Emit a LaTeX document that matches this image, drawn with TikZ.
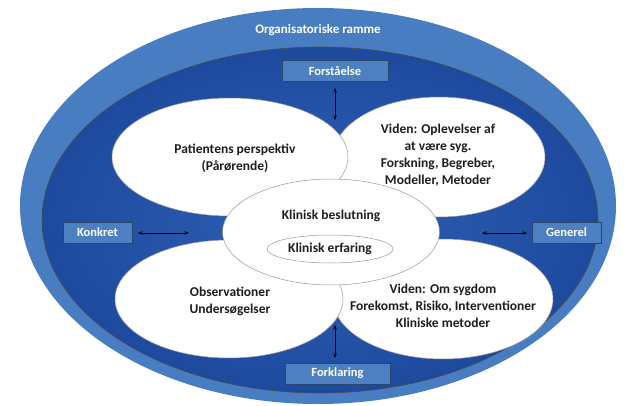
\documentclass[tikz,border=0pt]{standalone}
\usepackage{fontspec}
\setmainfont{Carlito}
\usetikzlibrary{shapes.geometric,arrows.meta}

\definecolor{rammeblaa}{RGB}{72,125,194}
\definecolor{moerkblaa}{RGB}{30,74,158}
\definecolor{lysblaa}{RGB}{46,97,182}
\definecolor{boksblaa}{RGB}{77,128,192}
\definecolor{tekstgraa}{RGB}{30,30,30}

\tikzset{
  felt/.style={ellipse, fill=white, draw=gray!80, line width=.5pt, inner sep=0pt},
  boks/.style={rectangle, fill=boksblaa, draw=boksblaa!55!black, line width=.6pt,
    text=white, font=\fontsize{12.5}{15}\bfseries, minimum height=21pt, inner sep=0pt},
  tekst/.style={align=center, text=tekstgraa, font=\fontsize{13.5}{17}\bfseries, inner sep=0pt},
  pil/.style={{Stealth[length=4.5pt,width=3.5pt]}-{Stealth[length=4.5pt,width=3.5pt]}, line width=.6pt},
}

\begin{document}
\begin{tikzpicture}[x=1pt,y=-1pt]
\useasboundingbox (0,0) rectangle (626,406);
% organisatorisk ramme
\fill[rammeblaa] (318,206) ellipse [x radius=298, y radius=198];
\shadedraw[inner color=lysblaa, outer color=moerkblaa, draw=black!70, line width=.6pt]
  (320,220) ellipse [x radius=278, y radius=173];
\node[font=\fontsize{13}{15}\bfseries, text=white] (ramme) at (318,30) {Organisatoriske ramme};

% de fire felter
\node[felt, minimum width=212, minimum height=120] (oplevelser) at (439,157) {};
\node[felt, minimum width=236, minimum height=118] (patient) at (230,157) {};
\node[felt, minimum width=220, minimum height=120] (sygdom) at (443,299) {};
\node[felt, minimum width=228, minimum height=118] (observation) at (229,299) {};
\node[felt, minimum width=217, minimum height=106] (beslutning) at (331,232) {};
\node[felt, minimum width=126, minimum height=28] (erfaring) at (330,249) {};
\node[tekst] (erfaringtxt) at (erfaring) {Klinisk erfaring};

% tekster
\node[tekst] (patienttxt) at (235,158) {Patientens perspektiv\\(Pårørende)};
\node[tekst] (oplevelsertxt) at (438,155) {Viden: Oplevelser af\\at være syg.\\Forskning, Begreber,\\Modeller, Metoder};
\node[tekst] (observationtxt) at (230,301) {Observationer\\Undersøgelser};
\node[tekst] (sygdomtxt) at (443,306) {Viden: Om sygdom\\Forekomst, Risiko, Interventioner\\Kliniske metoder};
\node[tekst] (beslutningtxt) at (331,216) {Klinisk beslutning};

% akser
\node[boks, minimum width=106] (forstaaelse) at (335,71) {Forståelse};
\node[boks, minimum width=105] (forklaring) at (337.5,373.5) {Forklaring};
\node[boks, minimum width=69] (konkret) at (97.5,232.5) {Konkret};
\node[boks, minimum width=69] (generel) at (566.5,232.5) {Generel};

\coordinate (optop) at (335,120);
\coordinate (nedbund) at (335,325);
\coordinate (venstreend) at (189,233);
\coordinate (hoejreend) at (482,233);
\draw[pil] (forstaaelse.south |- 0,88) -- (optop);
\draw[pil] (nedbund) -- (nedbund |- 0,358);
\draw[pil] (138,233) -- (venstreend);
\draw[pil] (hoejreend) -- (527,233);
\end{tikzpicture}
\end{document}
